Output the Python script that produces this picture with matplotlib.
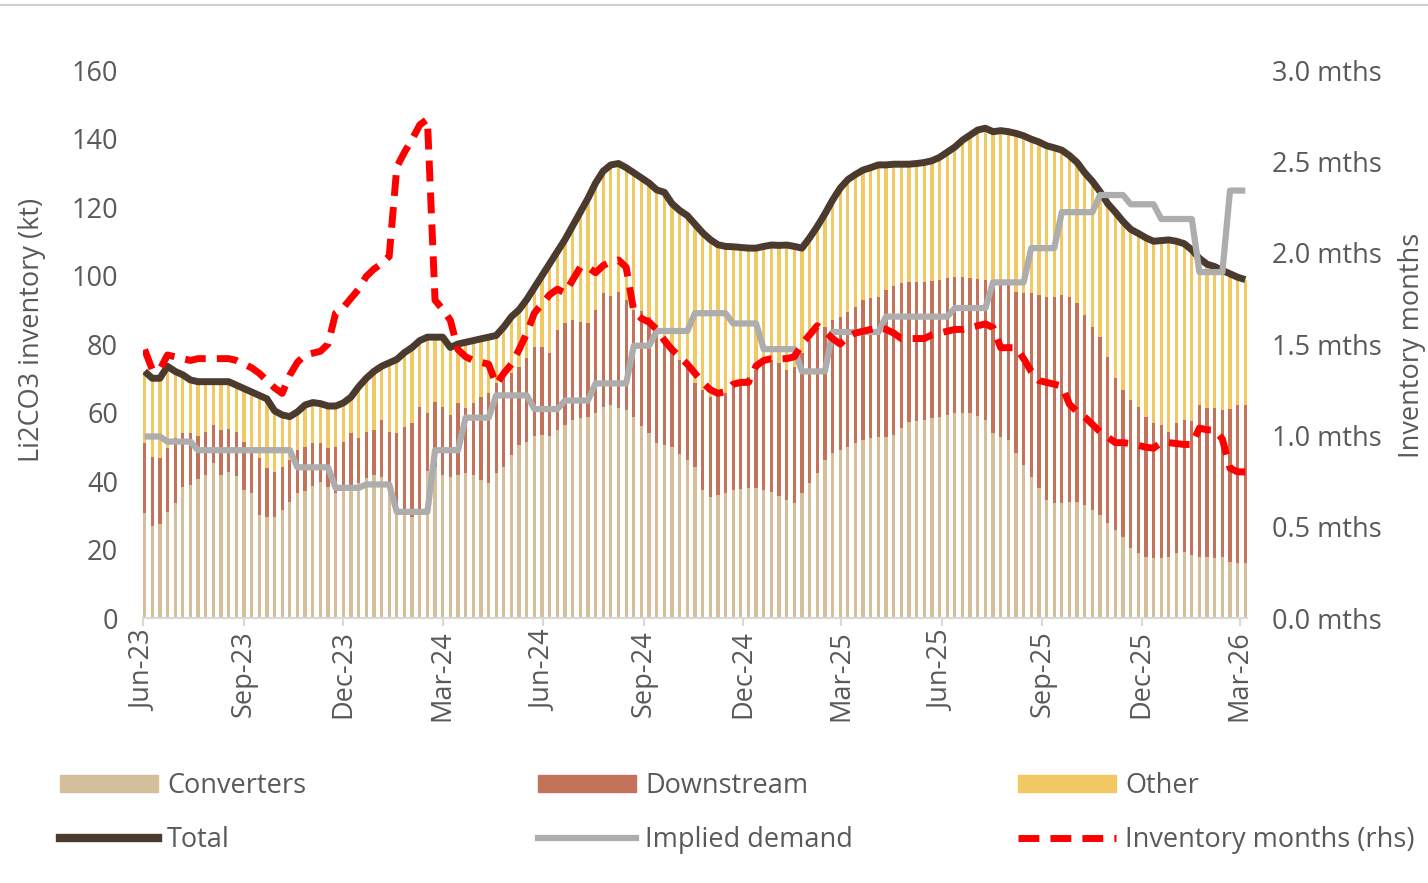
import pandas as pd
import matplotlib
matplotlib.use("Agg")
from matplotlib import pyplot as plt
import matplotlib.dates as mdates
from matplotlib.patches import Patch
from matplotlib.lines import Line2D

plt.rcParams['font.family'] = ['Open Sans', 'DejaVu Sans']

# weekly points, Jun-23 .. Mar-26
weeks = pd.date_range('2023-06-02', periods=145, freq='7D')

converters = [
    30.6, 26.9, 27.4, 31.0, 33.5, 38.2, 38.8, 40.6, 41.8, 45.2,
    41.8, 42.7, 41.5, 37.4, 36.4, 30.1, 29.6, 29.6, 31.5, 34.0,
    36.4, 37.0, 38.5, 39.8, 38.3, 36.4, 37.4, 38.3, 39.3, 40.8,
    41.8, 41.3, 39.3, 32.0, 30.0, 29.5, 30.0, 43.0, 44.2, 41.8,
    41.3, 41.8, 42.2, 41.8, 40.3, 39.3, 42.2, 44.2, 47.6, 50.5,
    51.5, 53.0, 53.5, 53.0, 55.0, 56.4, 57.8, 58.3, 58.8, 60.0,
    61.7, 62.2, 61.2, 60.7, 58.8, 56.0, 53.9, 51.0, 50.5, 50.0,
    48.0, 46.1, 44.2, 37.4, 35.4, 35.9, 36.5, 37.4, 37.6, 37.9,
    37.9, 37.5, 36.9, 35.5, 34.5, 33.5, 36.4, 39.3, 42.2, 46.1,
    48.1, 49.0, 50.0, 51.0, 52.0, 52.5, 52.9, 52.9, 53.4, 55.5,
    57.3, 57.5, 57.8, 58.3, 58.8, 59.3, 59.8, 59.8, 59.8, 59.0,
    57.8, 53.9, 52.9, 52.0, 48.1, 44.7, 41.3, 37.9, 34.5, 33.5,
    33.5, 34.0, 34.0, 33.0, 31.5, 30.1, 27.6, 25.7, 23.7, 20.4,
    18.9, 17.9, 17.4, 17.4, 17.9, 18.9, 19.4, 18.4, 17.9, 17.9,
    17.4, 17.9, 16.4, 16.0, 16.0,
]

downstream = [
    20.4, 20.2, 19.2, 18.5, 19.0, 15.7, 15.3, 12.5, 12.6, 11.2,
    13.1, 12.4, 12.9, 14.1, 13.1, 16.6, 14.1, 13.1, 12.7, 12.1,
    12.8, 13.0, 12.7, 11.2, 11.2, 13.6, 14.1, 15.6, 13.2, 13.6,
    13.1, 16.5, 15.1, 21.9, 25.9, 27.3, 31.7, 16.8, 19.0, 19.9,
    18.0, 20.9, 19.0, 20.9, 24.3, 26.3, 26.3, 25.8, 23.8, 22.9,
    24.5, 26.0, 25.5, 24.4, 29.0, 29.6, 29.2, 28.2, 27.2, 30.0,
    33.1, 31.8, 34.1, 32.1, 31.2, 33.5, 34.1, 33.0, 30.7, 28.2,
    27.3, 27.3, 24.3, 29.2, 29.2, 29.7, 29.1, 30.1, 31.9, 32.6,
    34.5, 36.9, 38.4, 39.0, 37.9, 39.9, 40.9, 41.9, 41.9, 38.9,
    38.9, 39.0, 39.4, 39.9, 40.8, 40.8, 40.9, 42.9, 43.4, 42.2,
    40.9, 40.7, 40.4, 40.2, 39.9, 39.9, 39.8, 39.8, 39.4, 40.0,
    40.9, 44.3, 45.3, 45.7, 47.2, 50.1, 53.5, 56.4, 59.3, 60.3,
    60.8, 59.8, 57.9, 55.5, 53.5, 52.0, 48.7, 44.3, 42.9, 43.2,
    42.8, 40.9, 39.4, 39.0, 36.5, 37.9, 38.4, 39.1, 44.3, 43.3,
    43.8, 42.8, 44.6, 46.2, 46.2,
]

other = [
    21.0, 22.9, 23.4, 24.0, 19.5, 17.1, 15.4, 15.9, 14.6, 12.6,
    14.1, 13.9, 13.6, 15.5, 16.5, 18.3, 20.3, 17.8, 15.1, 12.7,
    11.0, 12.2, 11.7, 11.6, 12.4, 11.9, 11.3, 10.6, 15.0, 15.6,
    17.1, 15.7, 20.1, 21.6, 21.6, 22.2, 19.3, 22.2, 18.8, 20.3,
    19.7, 17.3, 19.3, 18.3, 16.9, 16.4, 14.0, 15.0, 16.6, 16.6,
    17.0, 17.5, 21.0, 26.1, 23.0, 24.5, 27.5, 32.0, 36.5, 37.0,
    35.7, 38.3, 37.4, 38.7, 40.0, 39.0, 39.0, 41.0, 43.1, 42.8,
    43.7, 44.1, 46.5, 45.9, 45.9, 43.4, 42.9, 40.9, 38.7, 37.5,
    35.6, 34.1, 33.6, 34.3, 36.5, 35.1, 30.7, 29.8, 30.2, 33.0,
    35.0, 37.5, 38.6, 38.6, 38.0, 38.2, 38.5, 36.5, 35.7, 34.8,
    34.3, 34.5, 34.8, 35.0, 35.8, 36.8, 37.9, 39.9, 41.8, 43.5,
    44.3, 43.8, 44.1, 44.3, 46.2, 46.0, 45.0, 44.7, 44.1, 43.5,
    42.3, 41.2, 41.1, 41.5, 42.5, 42.4, 44.7, 48.5, 49.2, 49.9,
    50.6, 52.2, 53.2, 53.8, 56.0, 53.2, 51.5, 50.0, 42.8, 42.1,
    41.4, 40.8, 39.5, 37.3, 36.6,
]

total = [
    72.0, 70.0, 70.0, 73.5, 72.0, 71.0, 69.5, 69.0, 69.0, 69.0,
    69.0, 69.0, 68.0, 67.0, 66.0, 65.0, 64.0, 60.5, 59.3, 58.8,
    60.2, 62.2, 62.9, 62.6, 61.9, 61.9, 62.8, 64.5, 67.5, 70.0,
    72.0, 73.5, 74.5, 75.5, 77.5, 79.0, 81.0, 82.0, 82.0, 82.0,
    79.0, 80.0, 80.5, 81.0, 81.5, 82.0, 82.5, 85.0, 88.0, 90.0,
    93.0, 96.5, 100.0, 103.5, 107.0, 110.5, 114.5, 118.5, 122.5, 127.0,
    130.5, 132.3, 132.7, 131.5, 130.0, 128.5, 127.0, 125.0, 124.3, 121.0,
    119.0, 117.5, 115.0, 112.5, 110.5, 109.0, 108.5, 108.4, 108.2, 108.0,
    108.0, 108.5, 108.9, 108.8, 108.9, 108.5, 108.0, 111.0, 114.3, 118.0,
    122.0, 125.5, 128.0, 129.5, 130.8, 131.5, 132.3, 132.3, 132.5, 132.5,
    132.5, 132.7, 133.0, 133.5, 134.5, 136.0, 137.5, 139.5, 141.0, 142.5,
    143.0, 142.0, 142.3, 142.0, 141.5, 140.8, 139.8, 139.0, 137.9, 137.3,
    136.6, 135.0, 133.0, 130.0, 127.5, 124.5, 121.0, 118.5, 115.8, 113.5,
    112.3, 111.0, 110.0, 110.2, 110.4, 110.0, 109.3, 107.5, 105.0, 103.3,
    102.6, 101.5, 100.5, 99.5, 98.8,
]

implied_demand = [
    53.0, 53.0, 53.0, 51.5, 51.5, 51.5, 51.5, 49.0, 49.0, 49.0,
    49.0, 49.0, 49.0, 49.0, 49.0, 49.0, 49.0, 49.0, 49.0, 49.0,
    44.0, 44.0, 44.0, 44.0, 44.0, 38.0, 38.0, 38.0, 38.0, 39.0,
    39.0, 39.0, 39.0, 31.0, 31.0, 31.0, 31.0, 31.0, 49.0, 49.0,
    49.0, 49.0, 58.5, 58.5, 58.5, 58.5, 65.0, 65.0, 65.0, 65.0,
    65.0, 61.0, 61.0, 61.0, 61.0, 63.5, 63.5, 63.5, 63.5, 68.5,
    68.5, 68.5, 68.5, 68.5, 79.5, 79.5, 79.5, 83.8, 83.8, 83.8,
    83.8, 83.8, 89.0, 89.0, 89.0, 89.0, 89.0, 86.0, 86.0, 86.0,
    86.0, 78.5, 78.5, 78.5, 78.5, 78.5, 72.0, 72.0, 72.0, 72.0,
    83.5, 83.5, 83.5, 83.5, 83.5, 83.5, 83.5, 88.0, 88.0, 88.0,
    88.0, 88.0, 88.0, 88.0, 88.0, 88.0, 90.5, 90.5, 90.5, 90.5,
    90.5, 98.0, 98.0, 98.0, 98.0, 98.0, 108.0, 108.0, 108.0, 108.0,
    118.5, 118.5, 118.5, 118.5, 118.5, 123.5, 123.5, 123.5, 123.5, 120.8,
    120.8, 120.8, 120.8, 116.5, 116.5, 116.5, 116.5, 116.5, 101.0, 101.0,
    101.0, 101.0, 124.8, 124.8, 124.8,
]

inventory_months = [
    1.47, 1.36, 1.36, 1.44, 1.43, 1.42, 1.41, 1.42, 1.42, 1.42,
    1.42, 1.42, 1.41, 1.39, 1.37, 1.34, 1.30, 1.26, 1.23, 1.33,
    1.40, 1.44, 1.45, 1.46, 1.50, 1.67, 1.70, 1.75, 1.80, 1.87,
    1.91, 1.94, 1.98, 2.47, 2.55, 2.62, 2.70, 2.73, 1.74, 1.69,
    1.63, 1.47, 1.43, 1.41, 1.40, 1.39, 1.28, 1.34, 1.39, 1.47,
    1.56, 1.67, 1.72, 1.77, 1.80, 1.78, 1.85, 1.92, 1.92, 1.89,
    1.93, 1.95, 1.96, 1.92, 1.68, 1.64, 1.62, 1.58, 1.52, 1.47,
    1.43, 1.39, 1.34, 1.29, 1.25, 1.23, 1.24, 1.28, 1.29, 1.29,
    1.38, 1.41, 1.42, 1.42, 1.42, 1.43, 1.50, 1.55, 1.60, 1.57,
    1.53, 1.50, 1.54, 1.56, 1.57, 1.58, 1.59, 1.58, 1.56, 1.53,
    1.53, 1.53, 1.53, 1.55, 1.56, 1.57, 1.58, 1.58, 1.59, 1.60,
    1.61, 1.59, 1.48, 1.48, 1.48, 1.42, 1.35, 1.30, 1.29, 1.28,
    1.27, 1.17, 1.13, 1.10, 1.06, 1.02, 0.99, 0.96, 0.96, 0.955,
    0.945, 0.935, 0.93, 0.96, 0.96, 0.955, 0.95, 0.95, 1.04, 1.03,
    1.03, 0.98, 0.82, 0.80, 0.80,
]

c_conv = '#D4BF9A'
c_down = '#C4725A'
c_other = '#F0C963'
c_total = '#4B3A2E'
c_demand = '#ADADAD'
c_inv = '#FF0000'
txt = '#595959'

fig = plt.figure(figsize=(14.28, 8.83), dpi=100)
ax = fig.add_axes([0.1001, 0.3001, 0.7731, 0.6206])

bottom2 = [a + b for a, b in zip(converters, downstream)]
ax.bar(weeks, converters, width=3, color=c_conv, label='Converters')
ax.bar(weeks, downstream, width=3, bottom=converters, color=c_down, label='Downstream')
ax.bar(weeks, other, width=3, bottom=bottom2, color=c_other, label='Other')
ax.plot(weeks, total, color=c_total, lw=5, solid_capstyle='butt', label='Total')
ax.plot(weeks, implied_demand, color=c_demand, lw=4.5, solid_capstyle='butt', label='Implied demand')

ax.set_ylim(0, 160)
ax.set_yticks(range(0, 161, 20))
ax.set_xlim(mdates.date2num(pd.Timestamp('2023-05-31 12:00')),
            mdates.date2num(pd.Timestamp('2026-03-07 12:00')))
ax.xaxis.set_major_locator(mdates.MonthLocator(bymonth=[3, 6, 9, 12]))
ax.xaxis.set_major_formatter(mdates.DateFormatter('%b-%y'))

for s in ['top', 'right', 'left']:
    ax.spines[s].set_visible(False)
ax.spines['bottom'].set_color('#D9D9D9')
ax.spines['bottom'].set_linewidth(1.5)
ax.tick_params(axis='x', colors='#D9D9D9', length=6, width=1.5, labelcolor=txt,
               labelsize=19.5, labelrotation=90, pad=3)
ax.tick_params(axis='y', length=0, labelcolor=txt, labelsize=19.5, pad=18)

ax2 = ax.twinx()
ax2.plot(weeks, inventory_months, color=c_inv, lw=5, dashes=(3.0, 1.6),
         label='Inventory months (rhs)')
ax2.set_ylim(0, 3.0)
ax2.set_yticks([0, 0.5, 1.0, 1.5, 2.0, 2.5, 3.0])
ax2.set_yticklabels([f'{v:.1f} mths' for v in [0, 0.5, 1.0, 1.5, 2.0, 2.5, 3.0]])
for s in ['top', 'right', 'left', 'bottom']:
    ax2.spines[s].set_visible(False)
ax2.tick_params(axis='y', length=0, labelcolor=txt, labelsize=19.5, pad=18)

fig.text(32 / 1428, 1 - 330 / 883, 'Li2CO3 inventory (kt)', rotation=90,
         ha='center', va='center', fontsize=19.5, color=txt)
fig.text(1412 / 1428, 1 - 345 / 883, 'Inventory months', rotation=90,
         ha='center', va='center', fontsize=19.5, color=txt)

# thin rule at the top of the picture
fig.add_artist(Line2D([0, 1], [1 - 5 / 883, 1 - 5 / 883], color='#CFCFCF', lw=1.5))

# legend: three columns of two rows
columns = [
    [Patch(color=c_conv), Line2D([], [], color=c_total, lw=6)],
    [Patch(color=c_down), Line2D([], [], color=c_demand, lw=4.5)],
    [Patch(color=c_other), Line2D([], [], color=c_inv, lw=5, dashes=(3.0, 1.6))],
]
names = [['Converters', 'Total'], ['Downstream', 'Implied demand'],
         ['Other', 'Inventory months (rhs)']]
for k, xpos in enumerate([60, 538, 1018]):
    fig.legend(columns[k], names[k], loc='upper left',
               bbox_to_anchor=(xpos / 1428, 1 - 772 / 883), frameon=False,
               borderpad=0, borderaxespad=0, handlelength=3.6, handleheight=0.6,
               handletextpad=0.35, labelspacing=0.95, fontsize=19.5,
               labelcolor=txt)

fig.savefig('out.png', dpi=100)
